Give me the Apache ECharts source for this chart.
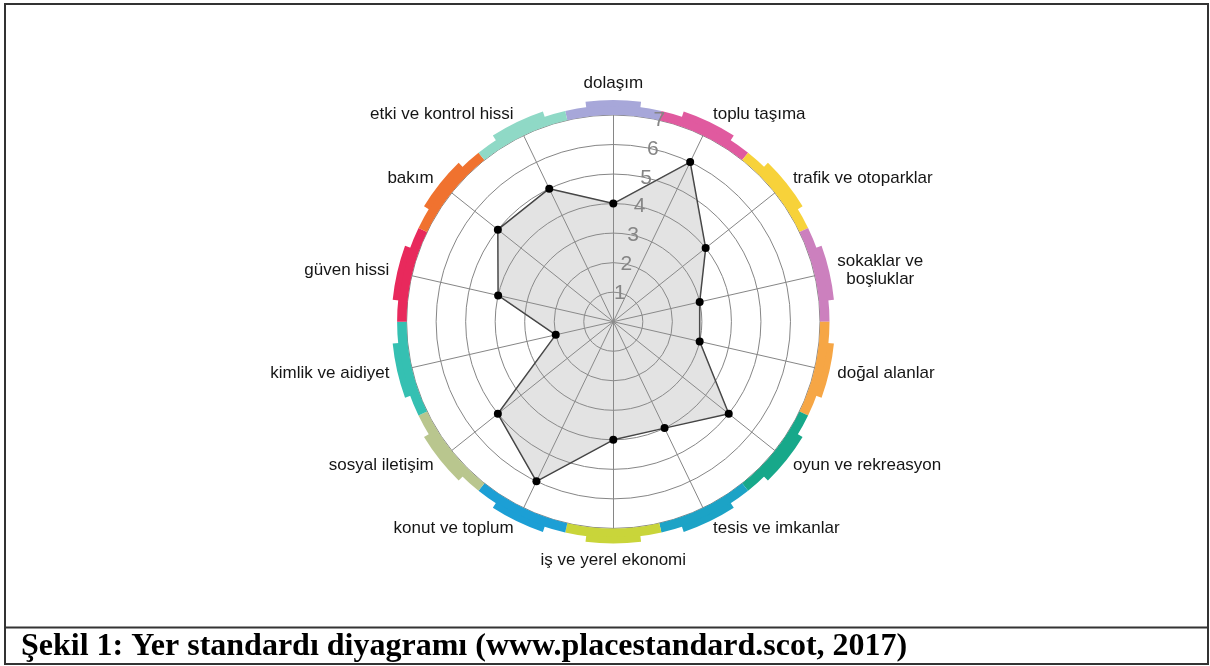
<!DOCTYPE html>
<html>
<head>
<meta charset="utf-8">
<script src="https://cdn.jsdelivr.net/npm/echarts@6/dist/echarts.min.js"></script>
<style>
html,body{margin:0;padding:0;background:#fff;}
#chart{width:1210px;height:666px;}
</style>
</head>
<body>
<div id="chart"></div>
<script>
// ---- data ----
const categories = ['dolaşım', 'toplu taşıma', 'trafik ve otoparklar', 'sokaklar ve\nboşluklar', 'doğal alanlar',
  'oyun ve rekreasyon', 'tesis ve imkanlar', 'iş ve yerel ekonomi', 'konut ve toplum', 'sosyal iletişim',
  'kimlik ve aidiyet', 'güven hissi', 'bakım', 'etki ve kontrol hissi'];
const scores = [4, 6, 4, 3, 3, 5, 4, 4, 6, 5, 2, 4, 5, 5];
const ringColors = ['#a7a7d9', '#e05a9f', '#f7d23a', '#cc80be', '#f6a645', '#17a88a', '#1ca3c6',
  '#c9d53a', '#1c9fd5', '#b9c68e', '#35c0b2', '#e8295c', '#f0722f', '#8fd9c6'];
const tickLabels = ['1', '2', '3', '4', '5', '6', '7'];
const scoreMin = 0;
const scoreMax = 7;
const caption = 'Şekil 1: Yer standardı diyagramı (www.placestandard.scot, 2017)';

// ---- layout ----
const cx = 613.3, cy = 321.7, R = 206.7;
const n = categories.length;
const half = 180 / n;

// radar runs counter-clockwise, reorder so it reads clockwise from the top
const order = [0];
for (let i = n - 1; i >= 1; i--) order.push(i);

const chart = echarts.init(document.getElementById('chart'), null, {renderer: 'canvas'});

const ringData = categories.map((c, i) => ({name: c, value: 1, itemStyle: {color: ringColors[i]}}));
const bumpData = [];
categories.forEach((c, i) => {
  bumpData.push({value: 0.22, itemStyle: {color: 'rgba(0,0,0,0)'}});
  bumpData.push({value: 0.56, itemStyle: {color: ringColors[i]}});
  bumpData.push({value: 0.22, itemStyle: {color: 'rgba(0,0,0,0)'}});
});

const option = {
  backgroundColor: '#fff',
  animation: false,
  radar: {
    center: [cx, cy],
    radius: R,
    startAngle: 90,
    shape: 'circle',
    splitNumber: scoreMax - scoreMin,
    nameGap: 23,
    indicator: order.map(i => ({name: categories[i], min: scoreMin, max: scoreMax})),
    axisName: {
      color: '#151515',
      fontSize: 17,
      fontFamily: '"Liberation Sans", Arial, sans-serif',
      formatter: function (v) {
        if (v.indexOf('\n') < 0) return v;
        return v.split('\n').map(s => '{c|' + s + '}').join('\n');
      },
      rich: {c: {width: 86, align: 'center', fontSize: 17, lineHeight: 18, color: '#151515',
        fontFamily: '"Liberation Sans", Arial, sans-serif'}}
    },
    axisLine: {lineStyle: {color: '#868686', width: 1}},
    splitLine: {lineStyle: {color: '#868686', width: 1}},
    splitArea: {show: false},
    axisTick: {show: false},
    axisLabel: {show: false}
  },
  polar: {center: [cx, cy], radius: R},
  angleAxis: {type: 'value', startAngle: 90 - half, show: false, min: 0, max: 360},
  radiusAxis: {
    type: 'value', min: scoreMin, max: scoreMax, interval: 1, z: 10,
    axisLine: {show: false}, axisTick: {show: false}, splitLine: {show: false},
    axisLabel: {
      show: true, margin: 0, align: 'center', verticalAlign: 'middle',
      color: '#858585', fontSize: 21, fontFamily: '"Liberation Sans", Arial, sans-serif',
      formatter: v => (v >= 1 ? tickLabels[v - 1] : '')
    }
  },
  series: [
    {
      type: 'pie', silent: true, center: [cx, cy], radius: [R, R + 9.5],
      startAngle: 90 + half, clockwise: true, label: {show: false}, labelLine: {show: false},
      emphasis: {disabled: true}, itemStyle: {borderWidth: 0}, data: ringData, z: 1
    },
    {
      type: 'pie', silent: true, center: [cx, cy], radius: [R + 8.5, R + 15],
      startAngle: 90 + half, clockwise: true, label: {show: false}, labelLine: {show: false},
      emphasis: {disabled: true}, itemStyle: {borderWidth: 0}, data: bumpData, z: 1
    },
    {
      type: 'radar',
      z: 3,
      symbol: 'circle',
      symbolSize: 8,
      itemStyle: {color: '#000'},
      lineStyle: {color: '#3c3c3c', width: 1.5},
      areaStyle: {color: 'rgba(150,150,150,0.38)'},
      data: [{value: order.map(i => scores[i])}]
    }
  ],
  graphic: [
    {type: 'rect', shape: {x: 5, y: 4, width: 1203, height: 660}, style: {fill: 'none', stroke: '#333', lineWidth: 2}, z: 100},
    {type: 'line', shape: {x1: 5, y1: 627.5, x2: 1208, y2: 627.5}, style: {stroke: '#333', lineWidth: 2}, z: 100},
    {type: 'text', x: 21, y: 646.5, z: 100,
      style: {text: caption, font: 'bold 32px "Liberation Serif", "Times New Roman", serif', fill: '#000', verticalAlign: 'middle', align: 'left'}}
  ]
};
chart.setOption(option);
</script>
</body>
</html>
